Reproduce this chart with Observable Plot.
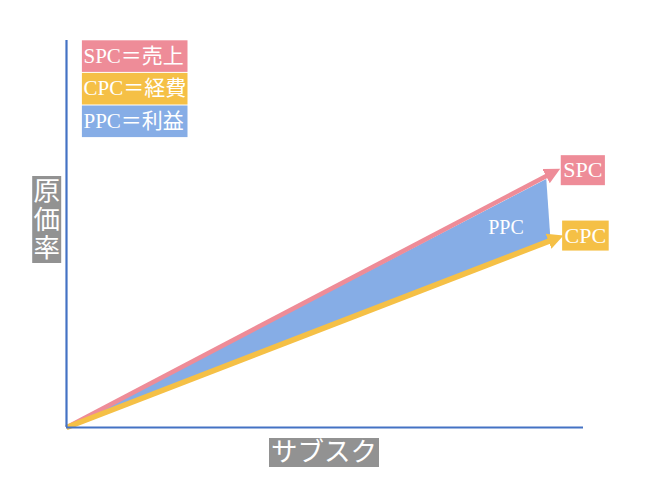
<!DOCTYPE html>
<html>
<head>
<meta charset="utf-8">
<script src="https://cdn.jsdelivr.net/npm/d3@7"></script>
<script src="https://cdn.jsdelivr.net/npm/@observablehq/plot@0.6"></script>
<style>
  html, body { margin: 0; padding: 0; background: #ffffff; }
</style>
</head>
<body>
<div id="chart"></div>
<script>
// ---- data ----
const series = ["SPC", "CPC"];
const seriesColors = ["#ee8c98", "#f5c046"];
const startX = [0, 0];
const startY = [0, 0];
const endX = [93.1, 93.6];
const endY = [65.2, 48.3];
const ppcName = "PPC";
const ppcColor = "#86ade6";
const ppcX = [0, 92.8, 93.6];
const ppcY = [0, 64.2, 48.8];
const ppcLabelX = [85];
const ppcLabelY = [51.7];
const legendLabels = ["SPC＝売上", "CPC＝経費", "PPC＝利益"];
const legendColors = ["#ee8c98", "#f5c046", "#86ade6"];
const xLabel = "サブスク";
const yLabel = "原価率";
const axisColor = "#4472c4";
const labelGray = "#929292";

const FONT = "'Liberation Serif', 'Noto Sans CJK JP', serif";
const SVGNS = "http://www.w3.org/2000/svg";

// filled triangular arrowhead marker
const arrowHead = (color) => {
  const m = document.createElementNS(SVGNS, "marker");
  m.setAttribute("viewBox", "0 -8 16 16");
  m.setAttribute("markerWidth", 16);
  m.setAttribute("markerHeight", 16);
  m.setAttribute("markerUnits", "userSpaceOnUse");
  m.setAttribute("refX", 2);
  m.setAttribute("refY", 0);
  m.setAttribute("orient", "auto");
  const p = document.createElementNS(SVGNS, "path");
  p.setAttribute("d", "M0,-8L16,0L0,8Z");
  p.setAttribute("fill", color);
  p.setAttribute("stroke", "none");
  m.appendChild(p);
  return m;
};

const idx = d3.range(series.length);
const widths = [4.6, 5.6];

const marks = [
  // PPC polygon
  Plot.line(d3.range(ppcX.length), {
    x: (i) => ppcX[i], y: (i) => ppcY[i],
    fill: ppcColor, stroke: "none"
  }),
  // SPC / CPC arrows
  ...idx.map((i) => Plot.link([i], {
    x1: (j) => startX[j], y1: (j) => startY[j],
    x2: (j) => endX[j], y2: (j) => endY[j],
    stroke: seriesColors[i], strokeWidth: widths[i],
    markerEnd: arrowHead
  })),
  // axes
  Plot.ruleX([0], {stroke: axisColor, strokeWidth: 2.2}),
  Plot.ruleY([0], {stroke: axisColor, strokeWidth: 2.2}),
  // PPC label
  Plot.text([ppcName], {
    x: () => ppcLabelX[0], y: () => ppcLabelY[0],
    fill: "white", fontSize: 20, fontFamily: FONT
  }),
  // end labels
  Plot.text(idx, {
    x: (i) => endX[i], y: (i) => endY[i], text: (i) => series[i],
    dx: 35, dy: -5, fill: "white", fontSize: 22, fontFamily: FONT,
    lineAnchor: "middle", textAnchor: "middle",
    ariaDescription: "box-end"
  }),
  // legend
  ...legendLabels.map((t, i) => Plot.text([t], {
    frameAnchor: "top-left", dx: 17, dy: 15.6 + i * 32.6,
    textAnchor: "start", lineAnchor: "middle",
    fill: "white", fontSize: 21, fontFamily: FONT,
    ariaDescription: "box-legend"
  })),
  // y label
  Plot.text([yLabel.split("").join("\n")], {
    frameAnchor: "left", dx: -19.8, dy: -14.5, lineHeight: 1.08,
    textAnchor: "middle", lineAnchor: "middle",
    fill: "white", fontSize: 26.5, fontFamily: FONT,
    ariaDescription: "box-ylabel"
  }),
  // x label
  Plot.text([xLabel], {
    frameAnchor: "bottom", dx: -1, dy: 25,
    textAnchor: "middle", lineAnchor: "middle",
    fill: "white", fontSize: 26.5, fontFamily: FONT,
    ariaDescription: "box-xlabel"
  })
];

const chart = Plot.plot({
  width: 650,
  height: 500,
  marginLeft: 66,
  marginRight: 67,
  marginTop: 40,
  marginBottom: 73,
  x: {domain: [0, 100], axis: null},
  y: {domain: [0, 100], axis: null},
  style: {background: "#ffffff", fontFamily: FONT, overflow: "visible"},
  marks
});
document.getElementById("chart").appendChild(chart);

// ---- draw coloured boxes behind the boxed labels ----
const endColor = new Map(series.map((s, i) => [s, seriesColors[i]]));
const legendColor = new Map(legendLabels.map((s, i) => [s, legendColors[i]]));
function boxify(label, colorOf, geom) {
  chart.querySelectorAll(`g[aria-description="${label}"] text`).forEach((t) => {
    const bb = t.getBBox();
    const g = geom(bb);
    const r = document.createElementNS(SVGNS, "rect");
    r.setAttribute("x", g.x);
    r.setAttribute("y", g.y);
    r.setAttribute("width", g.w);
    r.setAttribute("height", g.h);
    r.setAttribute("fill", colorOf(t.textContent));
    const tr = t.getAttribute("transform");
    if (tr) r.setAttribute("transform", tr);
    t.parentNode.insertBefore(r, t);
  });
}
boxify("box-end", (s) => endColor.get(s), (bb) => ({x: bb.x - 2.5, y: -15, w: bb.width + 5, h: 30}));
boxify("box-legend", (s) => legendColor.get(s), (bb) => ({x: bb.x - 1.6, y: -15.8, w: 105.6, h: 31.6}));
boxify("box-ylabel", () => labelGray, (bb) => ({x: bb.x + bb.width / 2 - 14.5, y: -43.5, w: 29, h: 87}));
boxify("box-xlabel", () => labelGray, (bb) => ({x: bb.x + bb.width / 2 - 55, y: -14.5, w: 110, h: 29}));
</script>
</body>
</html>
